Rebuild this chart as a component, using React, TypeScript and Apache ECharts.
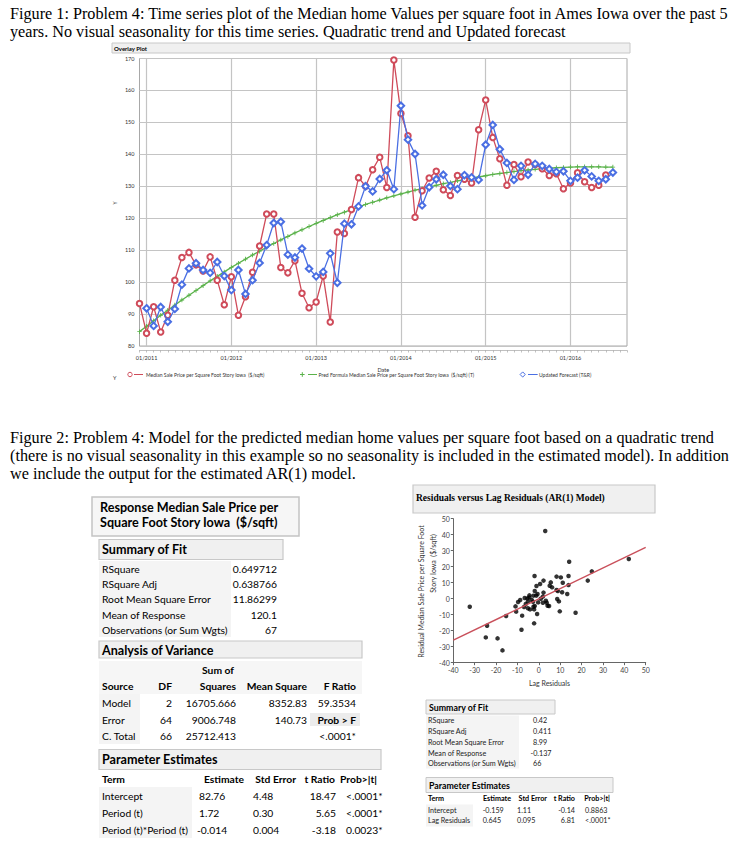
import React, { useEffect, useRef } from "react";
import * as echarts from "echarts";

// ---------- Figure 1 data ----------
const START_YEAR = 2010;
const START_MONTH = 12;
const N_MONTHS = 70;
const months: string[] = [];
for (let i = 0; i < N_MONTHS; i++) {
  const mm = ((START_MONTH - 1 + i) % 12) + 1;
  const yy = START_YEAR + Math.floor((START_MONTH - 1 + i) / 12);
  months.push(`${String(mm).padStart(2, "0")}/${yy}`);
}

// Median Sale Price per Square Foot (12/2010 .. 06/2016)
const actual = [
  93.3, 84.0, 92.3, 84.4, 89.6, 100.6, 107.7, 109.3, 105.4, 103.5,
  107.9, 100.6, 92.9, 101.7, 89.6, 95.4, 103.1, 111.3, 121.3, 121.3,
  104.6, 102.9, 106.7, 96.5, 92.0, 93.8, 101.9, 87.5, 115.7, 115.2,
  122.7, 132.7, 130.0, 135.2, 139.1, 129.6, 169.5, 152.8, 145.8, 120.3,
  128.6, 132.6, 134.7, 128.9, 127.1, 133.4, 132.2, 131.0, 147.7, 157.0,
  145.3, 138.6, 130.3, 136.8, 133.0, 137.6, 136.8, 135.5, 133.4, 133.9,
  129.2, 131.0, 134.2, 131.4, 129.6, 130.3, 133.5,
];
// Updated Forecast (T&R) (01/2011 .. 07/2016)
const forecast = [
  91.8, 86.3, 92.2, 87.6, 91.6, 99.2, 104.3, 105.9, 103.8, 102.9,
  106.3, 101.9, 97.5, 103.8, 96.3, 100.6, 106.0, 111.6, 118.5, 118.9,
  108.6, 107.7, 110.5, 104.2, 101.8, 103.2, 109.0, 99.8, 118.3, 118.1,
  123.7, 130.0, 128.4, 132.3, 135.0, 129.1, 155.2, 144.6, 140.1, 124.0,
  129.7, 132.2, 133.6, 130.1, 129.1, 133.5, 132.8, 132.0, 143.0, 149.2,
  141.6, 137.3, 132.0, 136.4, 133.6, 137.0, 136.4, 135.4, 134.5, 134.7,
  131.7, 132.7, 135.0, 133.1, 131.7, 132.2, 134.3,
];
// Pred Formula (quadratic trend) (12/2010 .. 07/2016)
const trend = [
  84.5, 86.2, 87.9, 89.6, 91.2, 92.8, 94.4, 95.9, 97.4, 98.9,
  100.4, 101.8, 103.2, 104.6, 105.9, 107.2, 108.5, 109.7, 110.9, 112.1,
  113.2, 114.3, 115.4, 116.4, 117.4, 118.4, 119.3, 120.2, 121.1, 121.9,
  122.7, 123.5, 124.3, 125.0, 125.7, 126.4, 127.0, 127.6, 128.2, 128.8,
  129.3, 129.8, 130.3, 130.8, 131.2, 131.7, 132.1, 132.5, 132.9, 133.3,
  133.7, 134.0, 134.3, 134.6, 134.9, 135.1, 135.3, 135.5, 135.7, 135.8,
  135.9, 136.0, 136.1, 136.1, 136.1, 136.1, 136.0, 136.0,
];

// ---------- Residual scatter data ----------
const lagResid = [
  3.0, 14.2, 42.1, 24.8, 22.9, 8.3, 10.3, 13.9, -2.0, 2.2,
  5.6, 11.2, -1.1, 0.6, 5.1, 13.9, -1.9, 8.3, 8.9, 10.9,
  13.3, 2.2, -4.4, -2.5, -1.2, -6.6, -5.3, -4.4, 1.9, 0.9,
  -8.7, -9.7, -5.1, -2.7, -0.3, 1.9, 3.7, 8.6, 9.4, -32.3,
  -10.9, -6.9, -5.1, -4.1, -2.5, -2.2, 4.1, 4.8, -1.9, -10.6,
  9.8, 17.2, -0.8, -7.8, -15.3, -2.2, -24.2, -8.1, -24.8, -19.3,
  -17.0, -3.3, -0.6, -6.1, 3.3, 6.2,
];
const resid = [
  42.3, 23.1, 24.8, 17.1, 11.3, 13.8, 13.3, 14.2, 14.2, 11.3,
  10.2, 10.0, 7.9, 9.2, 8.1, 8.5, 4.8, 5.4, 4.8, 4.0,
  2.9, 3.8, 2.1, 1.9, 1.9, 0.4, 0.2, 0.8, 1.3, 0.0,
  -0.8, -2.1, -1.7, -1.9, -2.3, -2.5, -2.5, -0.2, -1.7, -5.0,
  -4.8, -5.2, -6.0, -6.7, -5.0, -6.7, -4.4, -4.6, -4.6, -8.1,
  -7.9, -8.8, -9.6, -10.6, -10.8, -15.4, -16.9, -19.4, -24.2, -24.8,
  -32.3, -0.8, 2.9, -3.3, -1.3, 7.1,
];
const arIntercept = -0.159;
const arSlope = 0.645;
const scatterTicks = { min: -40, max: 50, interval: 10 };

// ---------- Table texts ----------
const fitLabels = ["RSquare", "RSquare Adj", "Root Mean Square Error", "Mean of Response", "Observations (or Sum Wgts)"];
const fitValues = ["0.649712", "0.638766", "11.86299", "120.1", "67"];
const anovaHeader = ["Source", "DF", "Squares", "Mean Square", "F Ratio"];
const anovaRows = [
  ["Model", "2", "16705.666", "8352.83", "59.3534"],
  ["Error", "64", "9006.748", "140.73", "Prob > F"],
  ["C. Total", "66", "25712.413", "", "<.0001*"],
];
const peHeader = ["Term", "Estimate", "Std Error", "t Ratio", "Prob>|t|"];
const peRows = [
  ["Intercept", "82.76", "4.48", "18.47", "<.0001*"],
  ["Period (t)", "1.72", "0.30", "5.65", "<.0001*"],
  ["Period (t)*Period (t)", "-0.014", "0.004", "-3.18", "0.0023*"],
];
const fit2Labels = ["RSquare", "RSquare Adj", "Root Mean Square Error", "Mean of Response", "Observations (or Sum Wgts)"];
const fit2Values = ["0.42", "0.411", "8.99", "-0.137", "66"];
const pe2Rows = [
  ["Intercept", "-0.159", "1.11", "-0.14", "0.8863"],
  ["Lag Residuals", "0.645", "0.095", "6.81", "<.0001*"],
];

const RED = "#cf4b5a";
const BLUE = "#4a6fe3";
const GREEN = "#5ab24a";
const SERIF = "Liberation Serif";
const SANS = "Lato";

function txt(x: number, y: number, text: string, size: number, opt: any = {}) {
  const align = opt.align || "left";
  return {
    type: "text",
    x,
    y,
    rotation: opt.rot || 0,
    silent: true,
    z: 10,
    style: {
      text,
      fill: opt.color || "#000",
      fontSize: size,
      fontFamily: opt.family || SANS,
      fontWeight: opt.bold ? "bold" : "normal",
      textAlign: align,
      textVerticalAlign: "middle",
      align,
      verticalAlign: "middle",
    },
  };
}
function box(x: number, y: number, w: number, h: number, fill: string, stroke?: string, lw = 1) {
  return {
    type: "rect",
    silent: true,
    z: 1,
    shape: { x, y, width: w, height: h },
    style: { fill, stroke: stroke || null, lineWidth: lw },
  };
}
function seg(x1: number, y1: number, x2: number, y2: number, stroke: string, lw = 1) {
  return { type: "line", silent: true, z: 5, shape: { x1, y1, x2, y2 }, style: { stroke, lineWidth: lw } };
}

function buildGraphics() {
  const g: any[] = [];
  // Captions
  const cap = 16.2;
  g.push(txt(10, 14, "Figure 1: Problem 4: Time series plot of the Median home Values per square foot in Ames Iowa over the past 5", cap, { family: SERIF }));
  g.push(txt(10, 32, "years. No visual seasonality for this time series. Quadratic trend and Updated forecast", cap, { family: SERIF }));
  g.push(txt(10, 438, "Figure 2: Problem 4: Model for the predicted median home values per square foot based on a quadratic trend", cap, { family: SERIF }));
  g.push(txt(10, 456, "(there is no visual seasonality in this example so no seasonality is included in the estimated model). In addition", cap, { family: SERIF }));
  g.push(txt(10, 474, "we include the output for the estimated AR(1) model.", cap, { family: SERIF }));

  // Overlay plot header + labels
  g.push(box(112, 43, 518, 10, "#f0f0f0", "#c8c8c8", 1));
  g.push(txt(114, 48, "Overlay Plot", 6, { bold: true }));
  g.push(txt(115, 203, "Y", 5, { rot: Math.PI / 2, align: "center", color: "#333" }));
  g.push(txt(113, 378, "Y", 5.5, { color: "#333" }));
  // legend
  const ly = 374.5;
  g.push({ type: "circle", silent: true, z: 6, shape: { cx: 130, cy: ly, r: 2.2 }, style: { fill: "none", stroke: RED, lineWidth: 1 } });
  g.push(seg(134, ly, 143, ly, RED, 1));
  g.push(txt(146, ly, "Median Sale Price per Square Foot Story Iowa  ($/sqft)", 5, { color: "#333" }));
  g.push(seg(300, ly, 304.6, ly, GREEN, 1));
  g.push(seg(302.3, ly - 2.3, 302.3, ly + 2.3, GREEN, 1));
  g.push(seg(308, ly, 317, ly, GREEN, 1));
  g.push(txt(318.5, ly, "Pred Formula Median Sale Price per Square Foot Story Iowa  ($/sqft) (T)", 5, { color: "#333" }));
  g.push({ type: "polygon", silent: true, z: 6, shape: { points: [[522.7, ly - 2.6], [525.3, ly], [522.7, ly + 2.6], [520.1, ly]] }, style: { fill: "none", stroke: BLUE, lineWidth: 1 } });
  g.push(seg(528, ly, 537.7, ly, BLUE, 1));
  g.push(txt(539, ly, "Updated Forecast (T&R)", 5, { color: "#333" }));

  // ----- Left tables -----
  const HB = 12.6;
  const RW = 10.3;
  g.push(box(92, 497, 207, 39, "#f6f6f6", "#c4c4c4", 1.5));
  g.push(txt(100, 507.5, "Response Median Sale Price per", HB, { bold: true }));
  g.push(txt(100, 522.5, "Square Foot Story Iowa  ($/sqft)", HB, { bold: true }));

  g.push(box(99, 539.5, 184, 20, "#f0f0f0", "#c8c8c8", 1.2));
  g.push(txt(102, 549.5, "Summary of Fit", HB, { bold: true }));
  g.push(box(99, 561, 132, 76, "#f4f4f4"));
  const fitY = [569, 584, 599, 614.5, 629.5];
  fitLabels.forEach((l, i) => {
    g.push(txt(102, fitY[i], l, RW));
    g.push(txt(277, fitY[i], fitValues[i], RW, { align: "right" }));
  });

  g.push(box(99, 641, 263, 17, "#f0f0f0", "#c8c8c8", 1.2));
  g.push(txt(102, 650, "Analysis of Variance", HB, { bold: true }));
  g.push(box(99, 661, 263, 33, "#f6f6f6"));
  g.push(box(99, 694, 41, 50, "#f4f4f4"));
  g.push(box(310, 713, 50, 13, "#ececec"));
  g.push(txt(218, 669.5, "Sum of", RW, { bold: true, align: "center" }));
  const anX = [102, 172, 236, 307, 356];
  const anAlign = ["left", "right", "right", "right", "right"];
  anovaHeader.forEach((h, j) => g.push(txt(anX[j], 686, h, RW, { bold: true, align: anAlign[j] })));
  const anY = [702.5, 719.5, 736];
  anovaRows.forEach((r, i) =>
    r.forEach((c, j) => {
      if (c) g.push(txt(anX[j], anY[i], c, RW, { align: anAlign[j], bold: c === "Prob > F" }));
    })
  );

  g.push(box(99, 749.5, 282, 20, "#f0f0f0", "#c8c8c8", 1.2));
  g.push(txt(102, 759.5, "Parameter Estimates", HB, { bold: true }));
  g.push(box(99, 787, 93, 51, "#f4f4f4"));
  const peHX = [102, 244, 296, 335, 377];
  const peHA = ["left", "right", "right", "right", "right"];
  peHeader.forEach((h, j) => g.push(txt(peHX[j], 778.5, h, RW, { bold: true, align: peHA[j] })));
  const peX = [102, 199, 253, 336, 346];
  const peA = ["left", "left", "left", "right", "left"];
  const peY = [796, 812.5, 830];
  peRows.forEach((r, i) =>
    r.forEach((c, j) => g.push(txt(j === 1 && c.startsWith("-") ? 197 : peX[j], peY[i], c, RW, { align: peA[j] })))
  );

  // ----- Scatter title -----
  g.push(box(413, 485, 242, 28, "#f0f0f0", "#c8c8c8", 1.2));
  g.push(txt(416, 497.5, "Residuals versus Lag Residuals (AR(1) Model)", 9.5, { bold: true, family: SERIF }));
  g.push(txt(421, 591.5, "Residual Median Sale Price per Square Foot", 7, { rot: Math.PI / 2, align: "center", color: "#333" }));
  g.push(txt(433, 563.5, "Story Iowa  ($/sqft)", 7, { rot: Math.PI / 2, align: "center", color: "#333" }));

  // ----- Right tables -----
  g.push(box(426, 700, 129, 14, "#f0f0f0", "#c8c8c8", 1));
  g.push(txt(429, 707.5, "Summary of Fit", 8.8, { bold: true }));
  g.push(box(426, 715.5, 93, 53, "#f4f4f4"));
  const f2Y = [720.7, 731.7, 742.5, 753.3, 763.8];
  fit2Labels.forEach((l, i) => {
    g.push(txt(428, f2Y[i], l, 7.2, { color: "#222" }));
    g.push(txt(fit2Values[i].startsWith("-") ? 530.5 : 533, f2Y[i], fit2Values[i], 7.2, { color: "#222" }));
  });
  g.push(box(426, 777.5, 187, 15, "#f0f0f0", "#c8c8c8", 1));
  g.push(txt(429, 785, "Parameter Estimates", 8.8, { bold: true }));
  g.push(box(426, 804.5, 47, 22, "#f4f4f4"));
  const pe2HX = [428, 511, 547, 575, 610];
  peHeader.forEach((h, j) => g.push(txt(pe2HX[j], 798.5, h, 7.2, { bold: true, align: j === 0 ? "left" : "right" })));
  const pe2X = [428, 482.7, 517, 575, 585];
  const pe2A = ["left", "left", "left", "right", "left"];
  const pe2Y = [810, 820.5];
  pe2Rows.forEach((r, i) => r.forEach((c, j) => g.push(txt(pe2X[j], pe2Y[i], c, 7.2, { align: pe2A[j], color: "#222" }))));
  return g;
}

export default function App() {
  const ref = useRef<HTMLDivElement>(null);
  useEffect(() => {
    if (!ref.current) return;
    const chart = echarts.init(ref.current, undefined, { renderer: "svg" });
    const isJan = (_i: number, v: string) => String(v).startsWith("01/");
    const lineX = [scatterTicks.min, scatterTicks.max];
    const scatterPts = lagResid.map((x, i) => [x, resid[i]]);
    const plusPath = "path://M4,0H6V4H10V6H6V10H4V6H0V4H4Z";
    chart.setOption({
      animation: false,
      backgroundColor: "#ffffff",
      textStyle: { fontFamily: SANS },
      grid: [
        { left: 139.5, top: 58.5, width: 487.5, height: 287.5, show: true, borderColor: "#a8a8a8", borderWidth: 1, containLabel: false },
        { left: 453.3, top: 518.7, width: 192.4, height: 144, containLabel: false },
      ],
      xAxis: [
        {
          gridIndex: 0,
          type: "category",
          data: months,
          boundaryGap: false,
          offset: 4.5,
          name: "Date",
          nameLocation: "middle",
          nameGap: 16,
          nameTextStyle: { fontSize: 5.5, color: "#333" },
          axisLine: { show: true, lineStyle: { color: "#c0c0c0", width: 1 } },
          axisTick: { show: true, interval: 0, length: 2, lineStyle: { color: "#999", width: 0.6 } },
          axisLabel: { interval: isJan, fontSize: 5.5, color: "#333", margin: 4.5 },
          splitLine: { show: true, interval: isJan, lineStyle: { color: "#c4c4c4", width: 1.2 } },
        },
        {
          gridIndex: 1,
          type: "value",
          min: scatterTicks.min,
          max: scatterTicks.max,
          interval: scatterTicks.interval,
          name: "Lag Residuals",
          nameLocation: "middle",
          nameGap: 17,
          nameTextStyle: { fontSize: 7, color: "#333" },
          axisLine: { show: true, onZero: false, lineStyle: { color: "#666", width: 1 } },
          axisTick: { show: true, length: 2.5, lineStyle: { color: "#666" } },
          axisLabel: { fontSize: 7, color: "#444", margin: 3.5 },
          splitLine: { show: false },
        },
      ],
      yAxis: [
        {
          gridIndex: 0,
          type: "value",
          min: 80,
          max: 170,
          interval: 10,
          axisLine: { show: false },
          axisTick: { show: false },
          axisLabel: { fontSize: 5.5, color: "#333", margin: 5 },
          splitLine: { show: true, lineStyle: { color: "#c4c4c4", width: 1.2 } },
        },
        {
          gridIndex: 1,
          type: "value",
          min: scatterTicks.min,
          max: scatterTicks.max,
          interval: scatterTicks.interval,
          axisLine: { show: true, onZero: false, lineStyle: { color: "#666", width: 1 } },
          axisTick: { show: true, length: 2.5, lineStyle: { color: "#666" } },
          axisLabel: { fontSize: 7, color: "#444", margin: 3.5 },
          splitLine: { show: false },
        },
      ],
      series: [
        {
          name: "Pred Formula",
          type: "line",
          xAxisIndex: 0,
          yAxisIndex: 0,
          data: trend,
          symbol: plusPath,
          symbolSize: 4.5,
          showSymbol: true,
          showAllSymbol: true,
          itemStyle: { color: GREEN },
          lineStyle: { color: GREEN, width: 1.3 },
          z: 2,
        },
        {
          name: "Median Sale Price",
          type: "line",
          xAxisIndex: 0,
          yAxisIndex: 0,
          data: actual,
          symbol: "emptyCircle",
          symbolSize: 5.5,
          showSymbol: true,
          showAllSymbol: true,
          itemStyle: { color: RED, borderWidth: 1 },
          lineStyle: { color: RED, width: 1.3 },
          z: 3,
        },
        {
          name: "Updated Forecast",
          type: "line",
          xAxisIndex: 0,
          yAxisIndex: 0,
          data: [null, ...forecast],
          symbol: "emptyDiamond",
          symbolSize: 6.5,
          showSymbol: true,
          showAllSymbol: true,
          itemStyle: { color: BLUE, borderWidth: 1 },
          lineStyle: { color: BLUE, width: 1.3 },
          z: 4,
        },
        {
          name: "Residuals",
          type: "scatter",
          xAxisIndex: 1,
          yAxisIndex: 1,
          data: scatterPts,
          symbol: "circle",
          symbolSize: 4.5,
          itemStyle: { color: "#000" },
          z: 3,
        },
        {
          name: "AR(1) fit",
          type: "line",
          xAxisIndex: 1,
          yAxisIndex: 1,
          data: lineX.map((x) => [x, arIntercept + arSlope * x]),
          showSymbol: false,
          symbol: "none",
          lineStyle: { color: "#c9505b", width: 1.4 },
          z: 4,
        },
      ],
      graphic: { elements: buildGraphics() },
    });
    return () => chart.dispose();
  }, []);
  return <div ref={ref} style={{ position: "fixed", left: 0, top: 0, width: 741, height: 847 }} />;
}
